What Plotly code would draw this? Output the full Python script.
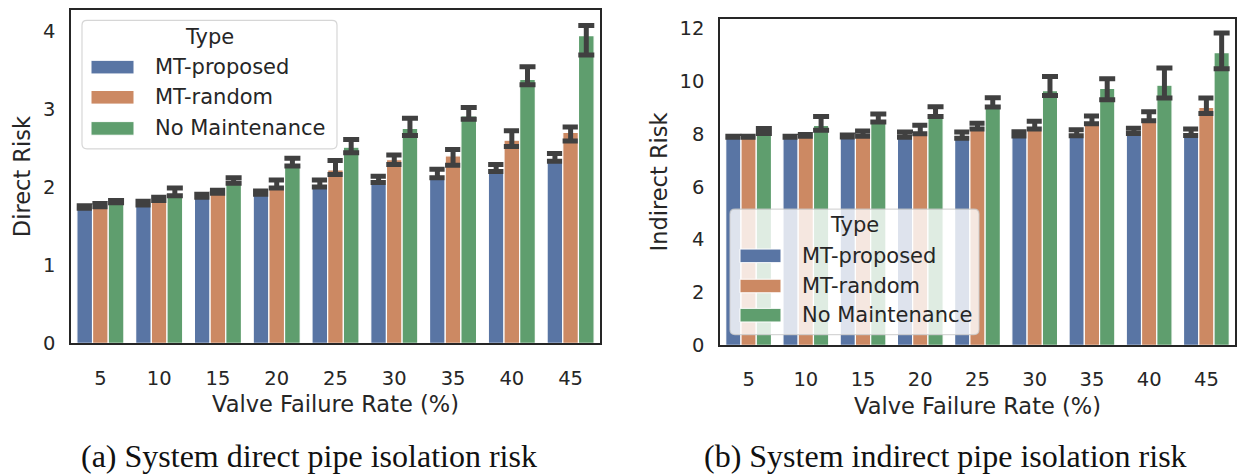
import plotly.graph_objects as go

W, H = 1239, 476

rates = ["5", "10", "15", "20", "25", "30", "35", "40", "45"]
types = ["MT-proposed", "MT-random", "No Maintenance"]
colors = ["#5975a4", "#cc8963", "#5f9e6e"]

# Direct risk: bar height (mean) with lower / upper confidence bounds
direct_proposed_mean = [1.74, 1.79, 1.88, 1.92, 2.01, 2.08, 2.13, 2.21, 2.35]
direct_proposed_lo = [1.73, 1.77, 1.87, 1.91, 2.00, 2.06, 2.12, 2.20, 2.33]
direct_proposed_hi = [1.76, 1.82, 1.91, 1.95, 2.09, 2.14, 2.23, 2.29, 2.43]

direct_random_mean = [1.77, 1.84, 1.93, 2.00, 2.22, 2.35, 2.40, 2.60, 2.70]
direct_random_lo = [1.75, 1.83, 1.92, 1.99, 2.16, 2.29, 2.28, 2.52, 2.59]
direct_random_hi = [1.79, 1.87, 1.96, 2.09, 2.34, 2.41, 2.48, 2.72, 2.77]

direct_none_mean = [1.81, 1.89, 2.05, 2.27, 2.51, 2.75, 2.91, 3.38, 3.94]
direct_none_lo = [1.80, 1.89, 2.05, 2.27, 2.44, 2.66, 2.87, 3.31, 3.69]
direct_none_hi = [1.83, 1.99, 2.12, 2.37, 2.61, 2.88, 3.02, 3.54, 4.07]

# Indirect risk
indirect_proposed_mean = [7.89, 7.89, 7.90, 7.95, 7.85, 8.00, 8.00, 8.05, 7.98]
indirect_proposed_lo = [7.87, 7.87, 7.88, 7.87, 7.83, 7.92, 7.93, 8.01, 7.94]
indirect_proposed_hi = [7.91, 7.91, 7.95, 8.07, 8.07, 8.08, 8.15, 8.21, 8.18]

indirect_random_mean = [7.89, 7.93, 7.98, 8.01, 8.20, 8.18, 8.38, 8.50, 9.00]
indirect_random_lo = [7.87, 7.91, 7.91, 8.00, 8.18, 8.18, 8.38, 8.49, 8.77]
indirect_random_hi = [7.91, 7.97, 8.11, 8.32, 8.40, 8.47, 8.67, 8.83, 9.35]

indirect_none_mean = [8.02, 8.32, 8.45, 8.65, 9.02, 9.63, 9.72, 9.84, 11.07]
indirect_none_lo = [8.01, 8.13, 8.45, 8.65, 9.01, 9.45, 9.29, 9.35, 10.46]
indirect_none_hi = [8.20, 8.65, 8.75, 9.02, 9.36, 10.17, 10.08, 10.49, 11.81]

direct_series = [
    (direct_proposed_mean, direct_proposed_lo, direct_proposed_hi),
    (direct_random_mean, direct_random_lo, direct_random_hi),
    (direct_none_mean, direct_none_lo, direct_none_hi),
]
indirect_series = [
    (indirect_proposed_mean, indirect_proposed_lo, indirect_proposed_hi),
    (indirect_random_mean, indirect_random_lo, indirect_random_hi),
    (indirect_none_mean, indirect_none_lo, indirect_none_hi),
]

INK = "#262626"
ERR = "#404040"
SANS = "DejaVu Sans"
SERIF = "Liberation Serif"

fig = go.Figure()


def add_panel(series, xa, ya):
    for name, color, (mean, lo, hi) in zip(types, colors, series):
        fig.add_trace(go.Bar(
            x=rates, y=mean, name=name, xaxis=xa, yaxis=ya,
            marker=dict(color=color, line=dict(color="white", width=1.2)),
            error_y=dict(
                type="data", symmetric=False,
                array=[h - m for h, m in zip(hi, mean)],
                arrayminus=[m - l for m, l in zip(mean, lo)],
                color=ERR, thickness=5, width=8,
            ),
            showlegend=False,
        ))


add_panel(direct_series, "x", "y")
add_panel(indirect_series, "x2", "y2")


def px_x(v):
    return v / W


def px_y(v):
    return 1 - v / H


# plot frames in pixels: (left, top, right, bottom)
left_box = (71, 9, 600, 352)
right_box = (720, 18, 1235, 354)

axis_common = dict(
    showline=True, mirror=True, linecolor=INK, linewidth=1.5,
    ticks="", showgrid=False, zeroline=False,
    tickfont=dict(family=SANS, size=19.5, color=INK),
)
label_font = dict(family=SANS, size=22.5, color=INK)

xaxis_common = dict(type="category", range=[-0.5, 8.5], ticklabelstandoff=16,
                    title=dict(text="Valve Failure Rate (%)", standoff=8,
                               font=label_font),
                    **axis_common)

fig.update_layout(
    width=W, height=H,
    margin=dict(l=0, r=0, t=0, b=0),
    paper_bgcolor="white", plot_bgcolor="white",
    barmode="group", bargap=0.2, bargroupgap=0,
    xaxis=dict(domain=[px_x(left_box[0]), px_x(left_box[2])], anchor="y",
               **xaxis_common),
    yaxis=dict(domain=[px_y(left_box[3]), px_y(left_box[1])], anchor="x",
               range=[0, 4.27], tickvals=[0, 1, 2, 3, 4], ticklabelstandoff=10,
               title=dict(text="Direct Risk", standoff=6, font=label_font),
               **axis_common),
    xaxis2=dict(domain=[px_x(right_box[0]), px_x(right_box[2])], anchor="y2",
                **xaxis_common),
    yaxis2=dict(domain=[px_y(right_box[3]), px_y(right_box[1])], anchor="x2",
                range=[0, 12.36], tickvals=[0, 2, 4, 6, 8, 10, 12],
                ticklabelstandoff=10,
                title=dict(text="Indirect Risk", standoff=6, font=label_font),
                **axis_common),
)


def rounded_rect(x0, y0, x1, y1, r):
    # rounded rectangle path in paper coordinates from pixel corners
    rx, ry = r / W, r / H
    X0, X1 = px_x(x0), px_x(x1)
    Y0, Y1 = px_y(y0), px_y(y1)  # Y0 is top
    return (f"M {X0 + rx},{Y0} L {X1 - rx},{Y0} Q {X1},{Y0} {X1},{Y0 - ry} "
            f"L {X1},{Y1 + ry} Q {X1},{Y1} {X1 - rx},{Y1} "
            f"L {X0 + rx},{Y1} Q {X0},{Y1} {X0},{Y1 + ry} "
            f"L {X0},{Y0 - ry} Q {X0},{Y0} {X0 + rx},{Y0} Z")


def draw_legend(box, title_y, rows_y, sw_x0, sw_x1, text_x):
    x0, y0, x1, y1 = box
    fig.add_shape(type="path", path=rounded_rect(x0, y0, x1, y1, 5),
                  xref="paper", yref="paper", layer="above",
                  fillcolor="rgba(255,255,255,0.8)",
                  line=dict(color="rgba(204,204,204,0.8)", width=1.2))
    fig.add_annotation(text="Type", x=px_x((x0 + x1) / 2), y=px_y(title_y),
                       xref="paper", yref="paper", showarrow=False,
                       xanchor="center", yanchor="middle",
                       font=dict(family=SANS, size=21, color=INK))
    for name, color, ry in zip(types, colors, rows_y):
        fig.add_shape(type="rect", xref="paper", yref="paper", layer="above",
                      x0=px_x(sw_x0), x1=px_x(sw_x1),
                      y0=px_y(ry - 7), y1=px_y(ry + 7),
                      fillcolor=color, line=dict(color="white", width=1))
        fig.add_annotation(text=name, x=px_x(text_x), y=px_y(ry),
                           xref="paper", yref="paper", showarrow=False,
                           xanchor="left", yanchor="middle",
                           font=dict(family=SANS, size=21, color=INK))


draw_legend((82, 20, 337, 152), 37, [68, 99, 131], 91, 134, 153)
draw_legend((730, 214, 979, 343), 230, [262, 293, 323], 740, 781, 800)

# sub-figure captions
for text, cx in [("(a) System direct pipe isolation risk", 309),
                 ("(b) System indirect pipe isolation risk", 945)]:
    fig.add_annotation(text=text, x=px_x(cx), y=px_y(468), xref="paper",
                       yref="paper", showarrow=False, xanchor="center",
                       yanchor="middle",
                       font=dict(family=SERIF, size=32, color="#111111"))

fig.write_html("out.html")
